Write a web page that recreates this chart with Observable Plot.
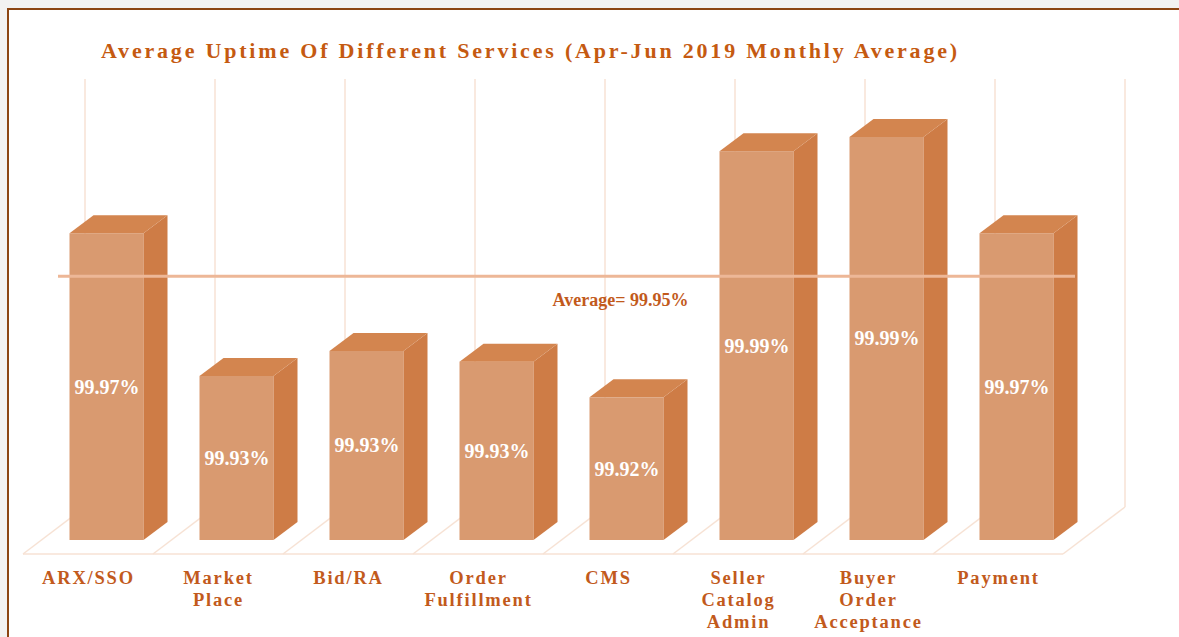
<!DOCTYPE html>
<html>
<head>
<meta charset="utf-8">
<script src="https://cdn.jsdelivr.net/npm/d3@7"></script>
<script src="https://cdn.jsdelivr.net/npm/@observablehq/plot@0.6"></script>
<style>
  html, body { margin: 0; padding: 0; background: #f2f2f2; width: 1179px; height: 637px; overflow: hidden; font-family: "Liberation Serif", serif; }
  #frame { position: absolute; left: 7px; top: 8px; width: 1300px; height: 800px; border-left: 2px solid #8B4513; border-top: 2px solid #8B4513; background: #fff; }
  #title { position: absolute; left: 0; top: 40px; width: 1061px; text-align: center; font: bold 22px/22px "Liberation Serif", serif; letter-spacing: 2.8px; color: #C55A11; white-space: nowrap; }
  #chart { position: absolute; left: 0; top: 70px; }
  #chart g[aria-label="x-axis tick label"] text { letter-spacing: 1.8px; }
</style>
</head>
<body>
<div id="frame"></div>
<div id="title">Average Uptime Of Different Services (Apr-Jun 2019 Monthly Average)</div>
<div id="chart"></div>
<script>
// ---- data ----
const services = ["ARX/SSO", "Market Place", "Bid/RA", "Order Fulfillment", "CMS", "Seller Catalog Admin", "Buyer Order Acceptance", "Payment"];
const tickLabels = ["ARX/SSO", "Market\nPlace", "Bid/RA", "Order\nFulfillment", "CMS", "Seller\nCatalog\nAdmin", "Buyer\nOrder\nAcceptance", "Payment"];
const uptime = [99.966, 99.926, 99.933, 99.930, 99.920, 99.989, 99.993, 99.966];
const average = 99.953;
const yDomain = [99.88, 100];

// ---- style ----
const FRONT = "#D99A70", SIDE = "#CE7C46", TOP = "#D3854F";
const GRID = "#F7E2D4", AVG = "#EDB797", TEXT = "#C25A1C";
const BAR_DX = 24, BAR_DY = 18;       // bar depth
const FLOOR_DX = 62, FLOOR_DY = 47;   // floor depth
const OFFX = 18.5, OFFY = 14;         // bar placement inside floor depth
const BASE = yDomain[0];

const data = services.map((s, i) => ({service: s, uptime: uptime[i]}));

function floorGrid(index, {x, y}) {
  const g = d3.create("svg:g").attr("stroke", GRID).attr("stroke-width", 1.5).attr("fill", "none");
  const bw = x.bandwidth();
  const step = x.step ? x.step() : bw / (1 - 0.433);
  const pad = (step - bw) / 2;
  const bounds = services.map(s => x(s) - pad);
  bounds.push(x(services[services.length - 1]) + bw + pad);
  const yf = y(BASE), yt = y(yDomain[1]);
  g.append("line").attr("x1", bounds[0]).attr("x2", bounds[bounds.length - 1]).attr("y1", yf).attr("y2", yf);
  bounds.forEach(b => {
    g.append("line").attr("x1", b).attr("y1", yf).attr("x2", b + FLOOR_DX).attr("y2", yf - FLOOR_DY);
    g.append("line").attr("x1", b + FLOOR_DX).attr("y1", yf - FLOOR_DY).attr("x2", b + FLOOR_DX).attr("y2", yt - FLOOR_DY);
  });
  return g.node();
}

function barFaces(index, {x, y}) {
  const g = d3.create("svg:g");
  const bw = x.bandwidth();
  services.forEach((s, i) => {
    const xl = x(s) + OFFX, xr = xl + bw;
    const yt = y(uptime[i]) - OFFY, yb = y(BASE) - OFFY;
    g.append("path")
      .attr("d", `M${xr},${yb}L${xr + BAR_DX},${yb - BAR_DY}L${xr + BAR_DX},${yt - BAR_DY}L${xr},${yt}Z`)
      .attr("fill", SIDE);
    g.append("path")
      .attr("d", `M${xl},${yt}L${xl + BAR_DX},${yt - BAR_DY}L${xr + BAR_DX},${yt - BAR_DY}L${xr},${yt}Z`)
      .attr("fill", TOP);
  });
  return g.node();
}

const chart = Plot.plot({
  width: 1179,
  height: 567,
  marginLeft: 21,
  marginRight: 114,
  marginTop: 56,
  marginBottom: 83,
  style: {fontFamily: '"Liberation Serif", serif', fontWeight: "bold", background: "transparent", overflow: "visible"},
  x: {domain: services, paddingInner: 0.433, paddingOuter: 0.2165, label: null},
  y: {domain: yDomain, axis: null},
  marks: [
    floorGrid,
    Plot.barY(data, {x: "service", y1: () => BASE, y2: "uptime", fill: FRONT, dx: OFFX, dy: -OFFY}),
    barFaces,
    Plot.ruleY([average], {y: d => d, stroke: AVG, strokeWidth: 3, dy: -18, insetLeft: 37, insetRight: -10}),
    Plot.text([average], {y: d => d, text: d => `Average= ${d.toFixed(2)}%`, dx: 77, dy: 6, fill: TEXT, fontSize: 18}),
    Plot.text(data, {x: "service", y: d => (d.uptime + BASE) / 2, text: d => d.uptime.toFixed(2) + "%", dx: OFFX, dy: -OFFY, fill: "white", fontSize: 20}),
    Plot.axisX({tickSize: 0, tickPadding: 14, fontSize: 18.5, lineHeight: 1.19, fill: TEXT, label: null,
      tickFormat: d => tickLabels[services.indexOf(d)]})
  ]
});
document.getElementById("chart").appendChild(chart);
</script>
</body>
</html>
